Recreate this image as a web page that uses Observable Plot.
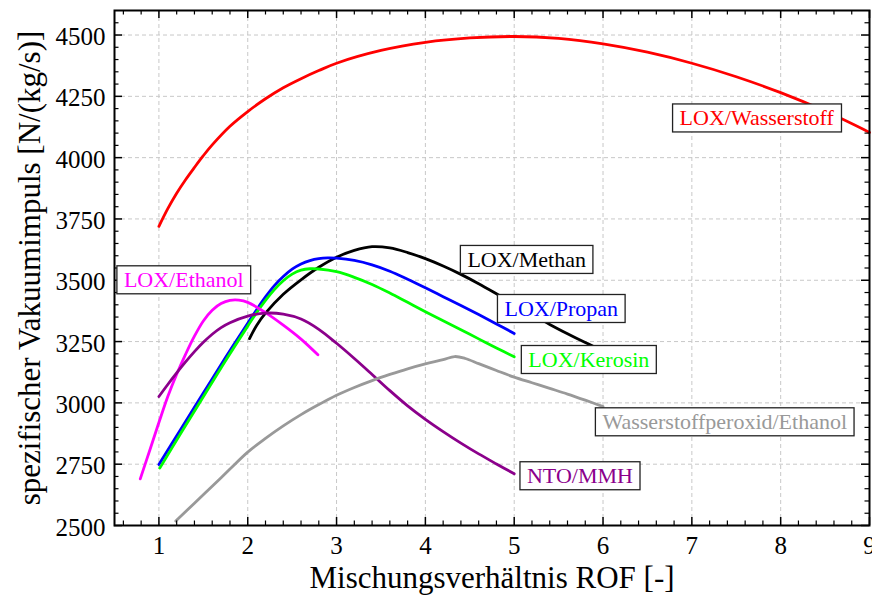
<!DOCTYPE html>
<html><head><meta charset="utf-8">
<script src="https://cdn.jsdelivr.net/npm/d3@7"></script>
<script src="https://cdn.jsdelivr.net/npm/@observablehq/plot@0.6"></script>
<style>html,body{margin:0;padding:0;overflow:hidden;background:#fff}</style>
</head><body><div id="chart"></div>
<script>
// ---- data ----
const seriesNames = ["LOX/Wasserstoff","LOX/Methan","LOX/Propan","LOX/Kerosin","LOX/Ethanol","NTO/MMH","Wasserstoffperoxid/Ethanol"];
const seriesColors = ["#ff0000","#000000","#0000ff","#00ff00","#ff00ff","#8b008b","#999999"];

const h2X = [1.0,1.1,1.2,1.3,1.4,1.5,1.6,1.8,2.0,2.2,2.4,2.6,2.8,3.0,3.5,4.0,4.5,5.0,5.5,6.0,6.5,7.0,7.5,8.0,8.5,9.0];
const h2Y = [3720,3792,3855,3910,3960,4008,4052,4128,4188,4240,4285,4322,4355,4385,4437,4470,4488,4494,4486,4464,4430,4385,4330,4265,4190,4103];

const ch4X = [2.02,2.1,2.2,2.4,2.6,2.8,3.0,3.2,3.4,3.6,3.8,4.0,4.2,4.4,4.6,4.8,5.0,5.2,5.4,5.6,5.8,6.0];
const ch4Y = [3262,3316,3366,3443,3502,3553,3594,3622,3637,3632,3613,3588,3558,3524,3486,3445,3403,3361,3320,3282,3246,3212];

const c3h8X = [1.0,1.25,1.5,1.75,2.0,2.1,2.2,2.3,2.4,2.5,2.6,2.7,2.8,2.9,3.0,3.2,3.4,3.6,3.8,4.0,4.2,4.4,4.6,4.8,5.0];
const c3h8Y = [2749,2895,3040,3185,3325,3380,3432,3478,3515,3545,3566,3580,3588,3591,3590,3581,3563,3537,3504,3469,3433,3397,3360,3322,3283];

const rp1X = [1.01,1.25,1.5,1.75,2.0,2.1,2.2,2.3,2.4,2.5,2.6,2.7,2.8,3.0,3.2,3.4,3.6,3.8,4.0,4.2,4.4,4.6,4.8,5.0];
const rp1Y = [2734,2878,3025,3172,3313,3368,3418,3462,3498,3525,3541,3547,3546,3535,3512,3483,3448,3410,3372,3335,3298,3261,3224,3188];

const ethX = [0.79,0.9,1.0,1.1,1.2,1.3,1.4,1.5,1.6,1.7,1.8,1.9,2.0,2.2,2.4,2.6,2.79];
const ethY = [2690,2810,2920,3026,3117,3198,3272,3334,3378,3405,3418,3419,3410,3368,3317,3260,3196];

const mmhX = [1.0,1.1,1.2,1.3,1.4,1.5,1.6,1.7,1.8,2.0,2.2,2.4,2.6,2.8,3.0,3.2,3.4,3.6,3.8,4.0,4.2,4.4,4.6,4.8,5.0];
const mmhY = [3026,3075,3122,3167,3209,3247,3280,3307,3327,3354,3366,3362,3342,3300,3243,3181,3116,3050,2988,2933,2883,2836,2792,2751,2711];

const htpX = [1.19,1.4,1.6,1.8,2.0,2.2,2.4,2.6,2.8,3.0,3.2,3.4,3.6,3.8,4.0,4.2,4.33,4.45,4.6,4.8,5.0,5.2,5.4,5.6,5.8,6.0];
const htpY = [2518,2591,2660,2730,2799,2855,2906,2952,2993,3031,3063,3091,3116,3139,3159,3176,3189,3181,3160,3132,3105,3082,3059,3036,3011,2985];

const xTicks = [1,2,3,4,5,6,7,8,9];
const yTicks = [2500,2750,3000,3250,3500,3750,4000,4250,4500];

const labelNames = ["LOX/Wasserstoff","LOX/Ethanol","LOX/Methan","LOX/Propan","LOX/Kerosin","Wasserstoffperoxid/Ethanol","NTO/MMH"];
const labelX = [7.73,1.28,5.14,5.53,5.84,7.37,5.74];
const labelY = [4160,3500,3583,3383,3175,2921,2701];

const xTitle = "Mischungsverhältnis ROF [-]";
const yTitle = "spezifischer Vakuumimpuls [N/(kg/s)]";

// ---- build tables ----
const seriesXs = [h2X, ch4X, c3h8X, rp1X, ethX, mmhX, htpX];
const seriesYs = [h2Y, ch4Y, c3h8Y, rp1Y, ethY, mmhY, htpY];
const rows = [];
seriesNames.forEach((n, k) => seriesXs[k].forEach((x, i) => rows.push({name: n, x, y: seriesYs[k][i]})));
const labels = labelNames.map((n, i) => ({name: n, x: labelX[i], y: labelY[i]}));

const xMinor = d3.range(3, 45).filter(i => i % 5 !== 0).map(i => i / 5);
const yMinor = d3.range(2550, 4600, 50).filter(v => v % 250 !== 0);

const W = 872, H = 596, mL = 114, mR = 3, mT = 10, mB = 71;
const PW = W - mL - mR, PH = H - mT - mB;
const MAJ = 8, MIN = 4.5;
const font = "Liberation Serif, Times New Roman, serif";

const svg = Plot.plot({
  width: W, height: H,
  marginLeft: mL, marginRight: mR, marginTop: mT, marginBottom: mB,
  style: {fontFamily: font, fontSize: "25px", background: "white", color: "black"},
  x: {domain: [0.5, 9], axis: null},
  y: {domain: [2500, 4600], axis: null},
  color: {domain: seriesNames, range: seriesColors},
  marks: [
    Plot.ruleX(xTicks, {x: d => d, stroke: "#c8c8c8", strokeWidth: 1, strokeDasharray: "4,3"}),
    Plot.ruleY(yTicks, {y: d => d, stroke: "#c8c8c8", strokeWidth: 1, strokeDasharray: "4,3"}),
    Plot.line(rows, {x: "x", y: "y", z: "name", stroke: "name", strokeWidth: 2.8, curve: "catmull-rom"}),
    // ticks pointing inward on all four sides
    Plot.tickX(xTicks, {x: d => d, insetTop: PH - MAJ, stroke: "black", strokeWidth: 1.5}),
    Plot.tickX(xTicks, {x: d => d, insetBottom: PH - MAJ, stroke: "black", strokeWidth: 1.5}),
    Plot.tickX(xMinor, {x: d => d, insetTop: PH - MIN, stroke: "black", strokeWidth: 1.2}),
    Plot.tickX(xMinor, {x: d => d, insetBottom: PH - MIN, stroke: "black", strokeWidth: 1.2}),
    Plot.tickY(yTicks, {y: d => d, insetRight: PW - MAJ, stroke: "black", strokeWidth: 1.5}),
    Plot.tickY(yTicks, {y: d => d, insetLeft: PW - MAJ, stroke: "black", strokeWidth: 1.5}),
    Plot.tickY(yMinor, {y: d => d, insetRight: PW - MIN, stroke: "black", strokeWidth: 1.2}),
    Plot.tickY(yMinor, {y: d => d, insetLeft: PW - MIN, stroke: "black", strokeWidth: 1.2}),
    Plot.frame({stroke: "black", strokeWidth: 2}),
    // tick labels
    Plot.text(xTicks, {x: d => d, text: d => String(d), frameAnchor: "bottom", lineAnchor: "top", dy: 11, fontSize: 25, fill: "black"}),
    Plot.text(yTicks, {y: d => d, text: d => String(d), frameAnchor: "left", textAnchor: "end", dx: -9, dy: 2, fontSize: 25, fill: "black"}),
    // axis titles
    Plot.text([xTitle], {text: d => d, frameAnchor: "bottom", textAnchor: "middle", lineAnchor: "middle", dy: 53, fontSize: 31, fill: "black"}),
    Plot.text([yTitle], {text: d => d, frameAnchor: "left", textAnchor: "middle", lineAnchor: "middle", dx: -84, rotate: -90, fontSize: 31, fill: "black"}),
    // annotations
    Plot.text(labels, {x: "x", y: "y", text: "name", fill: "name", fontSize: 22})
  ]
});
document.getElementById("chart").append(svg);

// white boxes with thin border behind the annotation texts
const labelSet = new Set(labelNames);
Array.from(svg.querySelectorAll("text")).filter(t => labelSet.has(t.textContent)).forEach(t => {
  const b = t.getBBox();
  const r = document.createElementNS("http://www.w3.org/2000/svg", "rect");
  r.setAttribute("x", b.x - 7);
  r.setAttribute("y", b.y - 1.5);
  r.setAttribute("width", b.width + 14);
  r.setAttribute("height", b.height + 3);
  const tr = t.getAttribute("transform");
  if (tr) r.setAttribute("transform", tr);
  r.setAttribute("fill", "white");
  r.setAttribute("stroke", "#222");
  r.setAttribute("stroke-width", 1.3);
  t.parentNode.insertBefore(r, t);
});
</script>
</body></html>
